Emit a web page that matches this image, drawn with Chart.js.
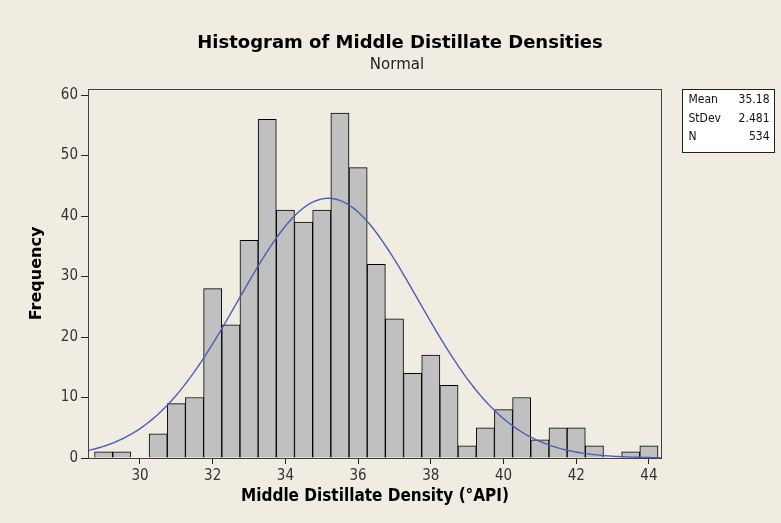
<!DOCTYPE html>
<html>
<head>
<meta charset="utf-8">
<script src="https://cdn.jsdelivr.net/npm/chart.js@4.4.1/dist/chart.umd.min.js"></script>
<style>
  html, body { margin: 0; padding: 0; background: #f0ece2; }
  #wrap { width: 781px; height: 523px; }
</style>
</head>
<body>
<div id="wrap"><canvas id="histChart" width="781" height="523"></canvas></div>
<script>
// bin centres (°API), bin width 0.5
const binCenters = [29, 29.5, 30, 30.5, 31, 31.5, 32, 32.5, 33, 33.5, 34, 34.5, 35, 35.5, 36, 36.5,
  37, 37.5, 38, 38.5, 39, 39.5, 40, 40.5, 41, 41.5, 42, 42.5, 43, 43.5, 44];
const frequencies = [1, 1, 0, 4, 9, 10, 28, 22, 36, 56, 41, 39, 41, 57, 48, 32,
  23, 14, 17, 12, 2, 5, 8, 10, 3, 5, 5, 2, 0, 1, 2];
const xTicks = [30, 32, 34, 36, 38, 40, 42, 44];
const yTicks = [0, 10, 20, 30, 40, 50, 60];

// fitted normal, parameters from the stats box
const MEAN = 35.18;
const STDEV = 2.481;
const N = 534;
const BIN_WIDTH = 0.5;
const statLabels = ['Mean', 'StDev', 'N'];
const statValues = ['35.18', '2.481', '534'];

const X_MIN = 28.57, X_MAX = 44.36;

const barData = binCenters.map((x, i) => ({ x: x, y: frequencies[i] > 0 ? frequencies[i] : null }));

const curveData = [];
for (let x = X_MIN; x <= X_MAX + 1e-9; x += 0.05) {
  const z = (x - MEAN) / STDEV;
  curveData.push({ x: x, y: N * BIN_WIDTH / (STDEV * Math.sqrt(2 * Math.PI)) * Math.exp(-0.5 * z * z) });
}

const frameAndStats = {
  id: 'frameAndStats',
  afterDatasetsDraw(chart) {
    const { ctx, chartArea } = chart;
    ctx.save();
    ctx.strokeStyle = '#404040';
    ctx.lineWidth = 1;
    ctx.strokeRect(chartArea.left + 0.5, chartArea.top + 0.5,
      chartArea.right - chartArea.left - 1, chartArea.bottom - chartArea.top);

    // titles
    ctx.fillStyle = '#000';
    ctx.textAlign = 'center';
    ctx.textBaseline = 'middle';
    ctx.font = 'bold 18px "DejaVu Sans", sans-serif';
    ctx.fillText('Histogram of Middle Distillate Densities', 400, 43);
    ctx.fillStyle = '#222';
    ctx.font = '15px "DejaVu Sans", sans-serif';
    ctx.fillText('Normal', 397, 65);

    // stats box
    const bx = chartArea.right + 20.5, by = 89.5, bw = 92, bh = 63;
    ctx.fillStyle = '#ffffff';
    ctx.fillRect(bx, by, bw, bh);
    ctx.strokeStyle = '#202020';
    ctx.strokeRect(bx, by, bw, bh);
    ctx.fillStyle = '#111';
    ctx.font = '12px "DejaVu Sans Condensed", "DejaVu Sans", sans-serif';
    statLabels.forEach((lab, i) => {
      const y = 100 + i * 18.5;
      ctx.textAlign = 'left';
      ctx.fillText(lab, bx + 6, y);
      ctx.textAlign = 'right';
      ctx.fillText(statValues[i], bx + bw - 5, y);
    });
    ctx.restore();
  }
};

const ctx = document.getElementById('histChart').getContext('2d');
const histChart = new Chart(ctx, {
  data: {
    datasets: [{
      type: 'line',
      label: 'Normal fit',
      data: curveData,
      borderColor: '#4a60b8',
      borderWidth: 1.4,
      pointRadius: 0,
      tension: 0,
      fill: false,
      order: 0
    }, {
      type: 'bar',
      label: 'Frequency',
      data: barData,
      backgroundColor: '#c0c0c0',
      borderColor: '#000000',
      borderWidth: 1,
      borderSkipped: 'start',
      barPercentage: 1,
      categoryPercentage: 1,
      order: 1
    }]
  },
  options: {
    responsive: false,
    animation: false,
    layout: {
      padding: { left: 22, right: 119, top: 89, bottom: 8 }
    },
    plugins: {
      legend: { display: false },
      tooltip: { enabled: false }
    },
    scales: {
      x: {
        type: 'linear',
        min: X_MIN,
        max: X_MAX,
        offset: false,
        afterFit: (scale) => { scale.height = 57; },
        afterBuildTicks: (scale) => { scale.ticks = xTicks.map(v => ({ value: v })); },
        grid: { display: true, offset: false, drawOnChartArea: false, drawTicks: true, tickLength: 6, color: '#222' },
        border: { display: false },
        ticks: {
          color: '#333',
          padding: 3,
          maxRotation: 0,
          font: { family: 'DejaVu Sans Condensed, DejaVu Sans', size: 15 }
        },
        title: {
          display: true,
          text: 'Middle Distillate Density (°API)',
          color: '#000',
          font: { family: 'DejaVu Sans Condensed, DejaVu Sans', size: 17, weight: 'bold' },
          padding: { top: 0, bottom: 8 }
        }
      },
      y: {
        min: 0,
        max: 61,
        afterFit: (scale) => { scale.width = 66; },
        afterBuildTicks: (scale) => { scale.ticks = yTicks.map(v => ({ value: v })); },
        grid: { display: true, drawOnChartArea: false, drawTicks: true, tickLength: 7, color: '#222' },
        border: { display: false },
        ticks: {
          color: '#333',
          padding: 3,
          font: { family: 'DejaVu Sans Condensed, DejaVu Sans', size: 15 }
        },
        title: {
          display: true,
          text: 'Frequency',
          color: '#000',
          font: { family: 'DejaVu Sans', size: 16, weight: 'bold' },
          padding: { top: 5, bottom: 0 }
        }
      }
    }
  },
  plugins: [frameAndStats]
});
</script>
</body>
</html>
